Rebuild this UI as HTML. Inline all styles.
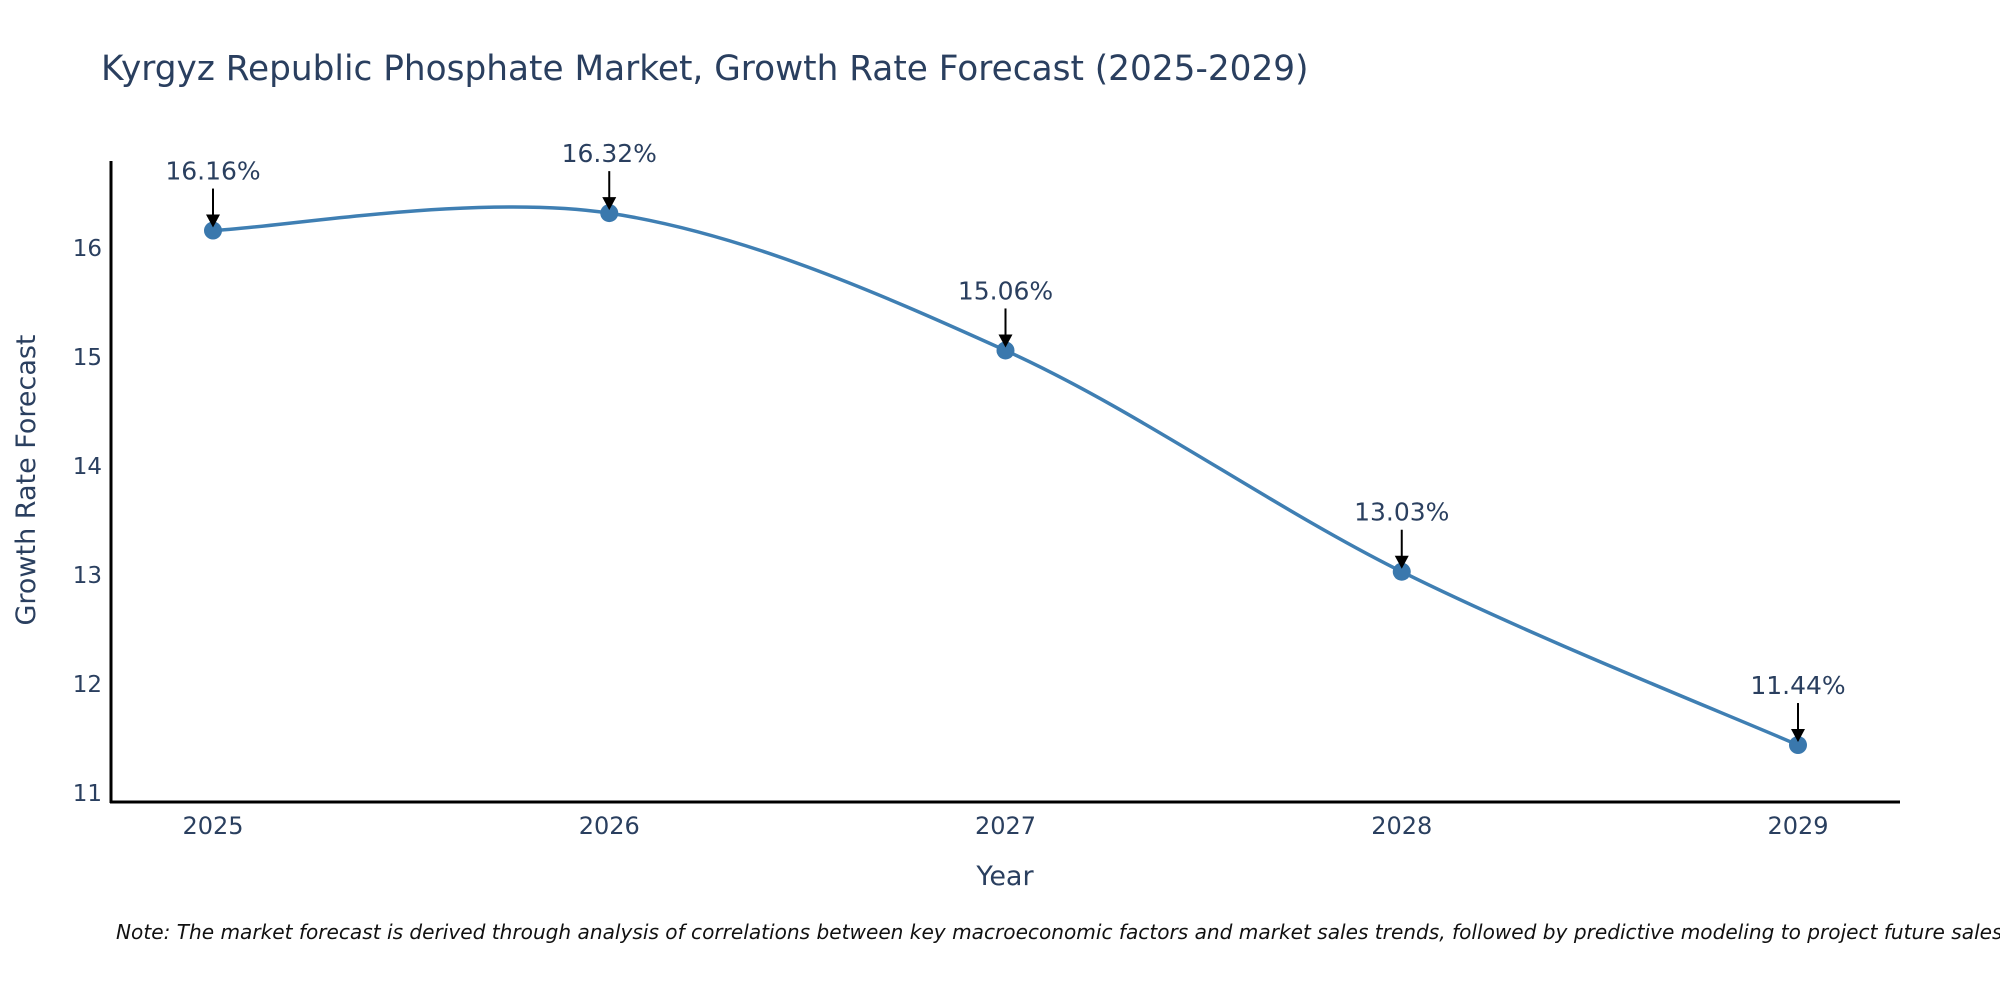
<!DOCTYPE html>
<html><head><meta charset="utf-8"><style>
body{margin:0;background:#fff;}
svg text{font-family:"DejaVu Sans","Liberation Sans",sans-serif;fill:#2a3f5f;}
</style></head><body>
<svg id="chart" width="2000" height="1000" viewBox="0 0 2000 1000" xmlns="http://www.w3.org/2000/svg">
<text x="101" y="80" font-size="34.3">Kyrgyz Republic Phosphate Market, Growth Rate Forecast (2025-2029)</text>
<line x1="111" y1="161" x2="111" y2="803" stroke="#000" stroke-width="3"/>
<line x1="110" y1="802" x2="1900" y2="802" stroke="#000" stroke-width="3"/>
<g id="yticks"></g><g id="xticks"></g>
<text transform="translate(35,480) rotate(-90)" text-anchor="middle" font-size="27">Growth Rate Forecast</text>
<text x="1005" y="885" text-anchor="middle" font-size="27">Year</text>
<path id="line" fill="none" stroke="#3f7fb3" stroke-width="3.5"/>
<g id="marks"></g>
<text x="116" y="939" font-size="20.1" font-style="italic" style="fill:#111">Note: The market forecast is derived through analysis of correlations between key macroeconomic factors and market sales trends, followed by predictive modeling to project future sales.</text>
</svg>
<script>
const years=[2025,2026,2027,2028,2029];
const values=[16.16,16.32,15.06,13.03,11.44];
const labels=["16.16%","16.32%","15.06%","13.03%","11.44%"];
const yTicks=[11,12,13,14,15,16];
const NS="http://www.w3.org/2000/svg";
function xs(v){return 213+(v-2025)*396.25;}
function ys(v){return 248-(v-16)*109;}
function mk(t,a,p){const e=document.createElementNS(NS,t);for(const k in a)e.setAttribute(k,a[k]);p.appendChild(e);return e;}
const yt=document.getElementById('yticks');
yTicks.forEach(t=>{const e=mk('text',{x:102,y:ys(t)+8,'text-anchor':'end','font-size':23},yt);


e.textContent=t;});
const xt=document.getElementById('xticks');
years.forEach(t=>{const e=mk('text',{x:xs(t),y:834,'text-anchor':'middle','font-size':24},xt);


e.textContent=t;});
const P=years.map((y,i)=>[xs(y),ys(values[i])]);
let d=`M${P[0][0]},${P[0][1]}`;
for(let i=0;i<P.length-1;i++){
 const p0=P[i-1]||P[i],p1=P[i],p2=P[i+1],p3=P[i+2]||P[i+1];
 const c1=[p1[0]+(p2[0]-p0[0])/6,p1[1]+(p2[1]-p0[1])/6];
 const c2=[p2[0]-(p3[0]-p1[0])/6,p2[1]-(p3[1]-p1[1])/6];
 d+=` C${c1[0]},${c1[1]} ${c2[0]},${c2[1]} ${p2[0]},${p2[1]}`;
}
document.getElementById('line').setAttribute('d',d);
const g=document.getElementById('marks');
P.forEach((p,i)=>{
 const c=mk('circle',{cx:p[0],cy:p[1],r:9,fill:'#3a78ad'},g);
 
 
 const a=mk('line',{x1:p[0],y1:p[1]-42,x2:p[0],y2:p[1]-14,stroke:'#000','stroke-width':2},g);
 
 
 const h=mk('polygon',{points:`${p[0]-7},${p[1]-16} ${p[0]+7},${p[1]-16} ${p[0]},${p[1]-3}`,fill:'#000'},g);
 
 
 const t=mk('text',{x:p[0],y:p[1]-51,'text-anchor':'middle','font-size':25},g);
 
 
 t.textContent=labels[i];
});
</script>
</body></html>
